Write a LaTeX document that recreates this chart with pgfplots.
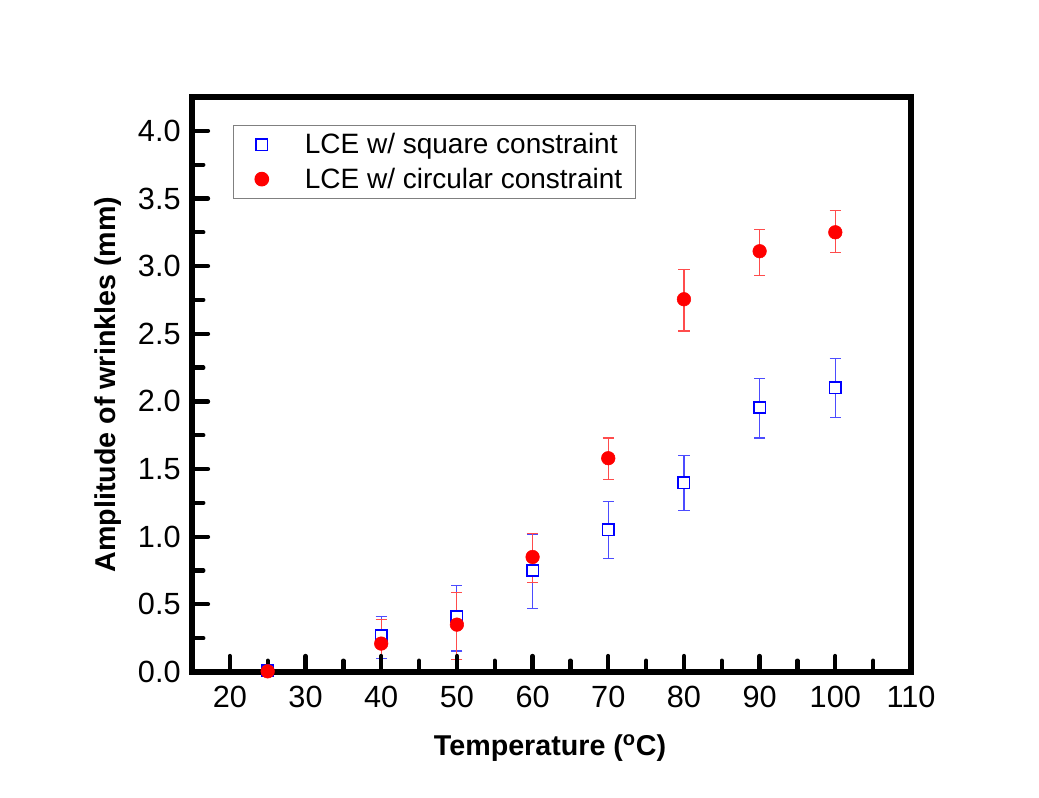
\documentclass[border=0pt]{standalone}
\usepackage{pgfplots}
\pgfplotsset{compat=1.18}
\usepackage{pgfplotstable}
\usepackage{fontspec}
\setmainfont{Liberation Sans}
\pgfplotstableread{
x y ep em
25 0.01 0.02 0.02
40 0.27 0.14 0.17
50 0.41 0.23 0.255
60 0.75 0.27 0.28
70 1.05 0.21 0.21
80 1.40 0.20 0.205
90 1.955 0.215 0.225
100 2.10 0.22 0.22
}\square
\pgfplotstableread{
x y ep em
25 0.005 0.01 0.01
40 0.21 0.18 0.20
50 0.35 0.24 0.26
60 0.85 0.175 0.19
70 1.58 0.15 0.16
80 2.755 0.22 0.235
90 3.11 0.16 0.18
100 3.25 0.16 0.15
}\circular
\begin{document}
\begin{tikzpicture}
\useasboundingbox (-144pt,-94.5pt) rectangle (635.25pt,504pt);
\begin{axis}[
  at={(0,0)}, anchor=south west,
  scale only axis,
  width=539.25pt, height=431.25pt,
  xmin=15, xmax=110, ymin=0, ymax=4.25,
  xtick={20,30,...,110},
  ytick={0,0.5,...,4.0},
  minor xtick={25,35,...,105},
  minor ytick={0.25,0.75,...,4.0},
  xtick pos=bottom, ytick pos=left,
  tick align=inside,
  major tick length=12pt, minor tick length=8.5pt,
  every tick/.style={black, line width=3.2pt, line cap=round},
  axis line style={line width=4.2pt},
  axis on top,
  /pgf/number format/assume math mode=true,
  xticklabel style={font=\fontsize{23}{27}\selectfont, yshift=-7pt},
  yticklabel style={font=\fontsize{23}{27}\selectfont, xshift=-5pt, /pgf/number format/.cd, fixed, fixed zerofill, precision=1},
  xticklabel={\pgfmathprintnumber[fixed,precision=0]{\tick}},
  xlabel={Temperature (\textsuperscript{o}C)},
  ylabel={Amplitude of wrinkles (mm)},
  label style={font=\bfseries\fontsize{21.5}{25}\selectfont},
  xlabel style={at={(axis description cs:0.498,-0.133)}, anchor=center},
  ylabel style={at={(axis description cs:-0.117,0.5)}, anchor=center},
  legend style={draw=gray, line width=0.8pt, at={(axis description cs:0.057,0.951)}, anchor=north west,
    font=\fontsize{21}{25}\selectfont, row sep=5pt, inner xsep=8pt, inner ysep=4pt},
  legend cell align=left,
  legend image code/.code={\draw[#1] plot coordinates {(0.45cm,0cm)};\path (0cm,0cm) (1.5cm,0cm);},
]
\addplot[only marks, mark=square*, mark size=4.3pt, color=blue, mark options={line width=1.2pt, fill=white},
  error bars/.cd, y dir=both, y explicit,
  error bar style={line width=0.9pt, blue!70},
  error mark options={rotate=90, mark size=4.2pt, line width=0.9pt, blue!70}]
  table[x=x, y=y, y error plus=ep, y error minus=em] {\square};
\addlegendentry{LCE w/ square constraint}
\addplot[only marks, mark=*, mark size=5.1pt, color=red,
  error bars/.cd, y dir=both, y explicit,
  error bar style={line width=0.9pt, red!70},
  error mark options={rotate=90, mark size=4.2pt, line width=0.9pt, red!70}]
  table[x=x, y=y, y error plus=ep, y error minus=em] {\circular};
\addlegendentry{LCE w/ circular constraint}
\end{axis}
\end{tikzpicture}
\end{document}
